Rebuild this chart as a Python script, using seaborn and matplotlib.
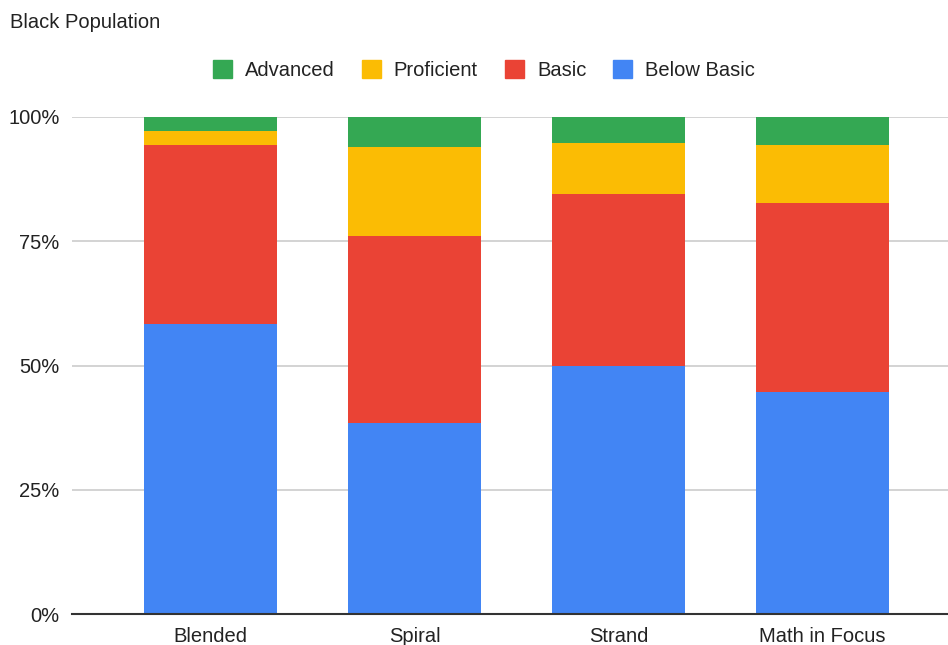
import matplotlib
matplotlib.use("Agg")
import matplotlib.pyplot as plt
from matplotlib.patches import Patch
from matplotlib.ticker import PercentFormatter
import seaborn as sns
import pandas as pd
import numpy as np

# Achievement level shares (percent) by curriculum
categories = ["Blended", "Spiral", "Strand", "Math in Focus"]
below_basic = [58.4, 38.4, 49.9, 44.6]
basic = [35.9, 37.6, 34.6, 38.0]
proficient = [2.9, 18.0, 10.3, 11.7]
advanced = [2.8, 6.0, 5.2, 5.7]

levels = ["Advanced", "Proficient", "Basic", "Below Basic"]
colors = {"Advanced": "#34a853", "Proficient": "#fbbc04",
          "Basic": "#ea4335", "Below Basic": "#4285f4"}

sns.set_theme(style="white")
plt.rcParams["font.family"] = ["Liberation Sans", "DejaVu Sans"]

df = pd.DataFrame({"Curriculum": categories, "Below Basic": below_basic,
                   "Basic": basic, "Proficient": proficient, "Advanced": advanced})
# cumulative tops, stacked from the bottom up
df["top_below"] = df["Below Basic"]
df["top_basic"] = df["top_below"] + df["Basic"]
df["top_prof"] = df["top_basic"] + df["Proficient"]
df["top_adv"] = df["top_prof"] + df["Advanced"]

fig = plt.figure(figsize=(9.48, 6.45), dpi=100)
ax = fig.add_axes([72 / 948, 31 / 645, 876 / 948, 497 / 645])

for col, lvl in [("top_adv", "Advanced"), ("top_prof", "Proficient"),
                 ("top_basic", "Basic"), ("top_below", "Below Basic")]:
    sns.barplot(data=df, x="Curriculum", y=col, color=colors[lvl],
                width=0.652, saturation=1, ax=ax, zorder=3, linewidth=0)

ax.set_xlim(-0.679, 3.615)
ax.set_ylim(0, 100)
ax.set_yticks([0, 25, 50, 75, 100])
ax.yaxis.set_major_formatter(PercentFormatter(decimals=0))
ax.grid(axis="y", color="#cccccc", linewidth=1.2, zorder=0)
ax.grid(axis="x", visible=False)
for s in ["top", "right", "left"]:
    ax.spines[s].set_visible(False)
ax.spines["bottom"].set_color("#333333")
ax.spines["bottom"].set_linewidth(1.5)
ax.spines["bottom"].set_zorder(4)
ax.set_xlabel("")
ax.set_ylabel("")
ax.tick_params(axis="both", length=0, labelsize=14.5, labelcolor="#222222")
ax.tick_params(axis="y", pad=9)
ax.tick_params(axis="x", pad=9)

fig.text(10 / 948, 1 - 22 / 645, "Black Population", fontsize=14.5,
         color="#222222", va="center", ha="left")

handles = [Patch(facecolor=colors[l], edgecolor=colors[l], label=l) for l in levels]
fig.legend(handles=handles, loc="center", bbox_to_anchor=(484 / 948, 1 - 70 / 645),
           ncol=4, frameon=False, fontsize=14.5, handlelength=0.95, handleheight=0.95,
           handletextpad=0.65, columnspacing=1.33, labelcolor="#222222")

fig.savefig("out.png", dpi=100)
